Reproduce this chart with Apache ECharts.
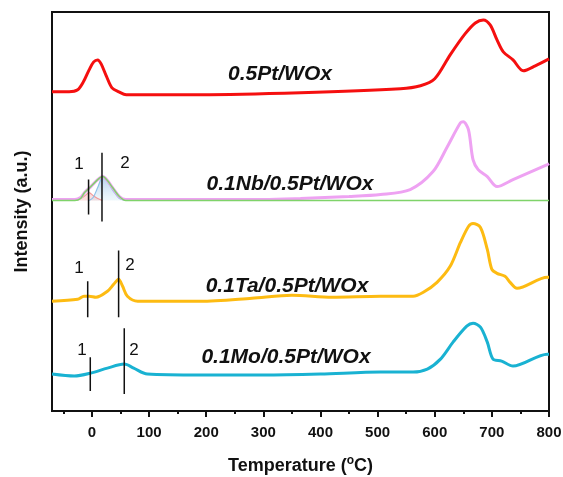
<!DOCTYPE html>
<html>
<head>
<meta charset="utf-8">
<script src="https://cdn.jsdelivr.net/npm/echarts@6/dist/echarts.min.js"></script>
<style>html,body{margin:0;padding:0;background:#fff}#c{width:563px;height:477px}</style>
</head>
<body>
<div id="c"></div>
<script>
// Temperature (°C), intensity (a.u., offset-stacked)
var majorTicks = [0, 100, 200, 300, 400, 500, 600, 700, 800];
var minorTicks = [-50, 50, 150, 250, 350, 450, 550, 650, 750];

var redPt = [[-70,320],[-40,320],[-25,322],[-15,330],[-5,342],[3,350],[10,352],[16,348],[25,336],[35,324],[47,320],[60,317],[80,317],[190,317],[365,319],[540,323],[575,326],[600,333],[627,357],[653,378],[671,389],[685,392],[697,387],[709,372],[720,360],[737,352],[755,341],[776,346],[800,353]];

var pinkNb = [[-70,212],[-30,212],[-20,214],[-13,219],[-2,225],[10,232],[19,235],[27,231],[36,224],[48,215],[59,212],[100,212],[200,212],[300,212],[365,213],[450,215],[505,217],[557,222],[597,240],[622,265],[645,289],[650,290],[659,282],[667,252],[676,242],[692,235],[709,225],[737,232],[797,247],[800,248]];
var greenFit = [[-70,211],[-30,211],[-20,213],[-13,219],[-2,225],[10,232],[19,235],[27,231],[36,224],[48,215],[59,211],[800,211]];
var fitPeak1 = [[-30,211],[-20,213],[-12,216],[-5,219],[2,216],[10,213],[18,211]];
var fitPeak2 = [[-5,211],[2,214],[10,224],[19,235],[28,229],[38,220],[48,213],[58,211]];

var yellowTa = [[-70,110],[-25,112],[-14,115],[-5,115],[7,114],[27,120],[38,127],[46.6,132],[53.6,125],[62,115],[80,110],[190,110],[280,113],[350,116],[420,114],[505,115],[562,115],[580,119],[604,129],[627,145],[645,169],[659,185],[667,188],[680,184],[692,162],[700,142],[709,138],[723,135],[732,129],[744,123],[797,134],[800,134]];

var blueMo = [[-70,37],[-31,35],[-2,38],[27,43],[56.5,47],[73,43],[97,37],[190,36],[300,36],[400,37],[505,39],[562,39],[587,42],[610,52],[632,69],[656,85],[667,88],[680,84],[692,69],[702,52],[717,50],[737,45],[797,57],[800,57]];

// peak marker lines: [temperature, yTop, yBottom]
var markersNb = [[-6,232,197],[17.5,259,190]];
var markersTa = [[-7.5,130,94],[46.6,161,94]];
var markersMo = [[-3,54,20],[56.5,83,17]];

var sampleNames = ['0.5Pt/WOx','0.1Nb/0.5Pt/WOx','0.1Ta/0.5Pt/WOx','0.1Mo/0.5Pt/WOx'];

var chart = echarts.init(document.getElementById('c'));

function curve(name, data, color, width, z) {
  return {name:name, type:'line', data:data, smooth:0.3, symbol:'none', z:z||3,
    lineStyle:{color:color, width:width}};
}
function markerSeries(list) {
  return list.map(function(m){
    return {type:'line', data:[[m[0],m[1]],[m[0],m[2]]], symbol:'none', z:6,
      lineStyle:{color:'#111', width:1.5}};
  });
}

var series = [
  {type:'line', data:fitPeak1, smooth:0.3, symbol:'none', z:2,
   lineStyle:{color:'#f39a9a', width:1.2},
   areaStyle:{origin:211, color:'rgba(244,170,170,0.55)'}},
  {type:'line', data:fitPeak2, smooth:0.3, symbol:'none', z:2,
   lineStyle:{color:'#8fc0e8', width:1.2},
   areaStyle:{origin:211, color:new echarts.graphic.LinearGradient(0,0,0,1,[
     {offset:0,color:'rgba(90,150,215,0.65)'},{offset:1,color:'rgba(190,225,240,0.35)'}])}},
  curve(sampleNames[1], pinkNb, '#eea2f2', 3, 3),
  {type:'line', data:greenFit, smooth:0.3, symbol:'none', z:4,
   lineStyle:{color:'#7fd36a', width:1.5}},
  curve(sampleNames[0], redPt, '#f50f0f', 3, 3),
  curve(sampleNames[2], yellowTa, '#fdbb12', 3, 3),
  curve(sampleNames[3], blueMo, '#19b2d2', 3, 3)
].concat(markerSeries(markersNb), markerSeries(markersTa), markerSeries(markersMo));

var numFont = 'Liberation Sans';
var graphics = [];
function txt(t, x, y, font) {
  graphics.push({type:'text', x:x, y:y, z:10, style:{text:t, fill:'#111', font:font, textAlign:'center', textVerticalAlign:'middle'}});
}
var lblFont = 'italic bold 21px "Liberation Sans"';
txt(sampleNames[0], 280, 74, lblFont);
txt(sampleNames[1], 290, 184, lblFont);
txt(sampleNames[2], 287, 286, lblFont);
txt(sampleNames[3], 286, 357, lblFont);
var numF = '17px "Liberation Sans"';
txt('1', 79, 164, numF); txt('2', 125, 163, numF);
txt('1', 79, 268, numF); txt('2', 130, 265, numF);
txt('1', 82, 350, numF); txt('2', 134, 350, numF);

chart.setOption({
  animation:false,
  grid:{left:52, right:14, top:12, bottom:66, show:true, borderColor:'#111', borderWidth:2, outerBoundsMode:'none', containLabel:false},
  xAxis:[{
    type:'value', min:-70, max:800,
    axisLine:{show:true, onZero:false, lineStyle:{color:'#111', width:2}},
    axisTick:{show:true, customValues:majorTicks, length:6, inside:false, lineStyle:{color:'#111', width:2}},
    axisLabel:{customValues:majorTicks, color:'#111', fontSize:15, fontWeight:'bold', fontFamily:numFont, margin:14},
    splitLine:{show:false},
    name:'{a|Temperature (}{s|o}{a|C)}', nameLocation:'middle', nameGap:44,
    nameTextStyle:{rich:{
      a:{fontSize:18, fontWeight:'bold', fontFamily:numFont, color:'#111', lineHeight:22},
      s:{fontSize:12, fontWeight:'bold', fontFamily:numFont, color:'#111', verticalAlign:'top', lineHeight:12}
    }}
  },{
    type:'value', min:-70, max:800, position:'bottom',
    axisLine:{show:false, onZero:false},
    axisTick:{show:true, customValues:minorTicks, length:3, lineStyle:{color:'#111', width:2}},
    axisLabel:{show:false}, splitLine:{show:false}
  }],
  yAxis:{
    type:'value', min:0, max:400,
    axisLine:{show:true, onZero:false, lineStyle:{color:'#111', width:2}},
    axisTick:{show:false}, axisLabel:{show:false}, splitLine:{show:false},
    name:'Intensity (a.u.)', nameLocation:'middle', nameGap:21, nameRotate:90,
    nameTextStyle:{fontSize:18, fontWeight:'bold', fontFamily:numFont, color:'#111'}
  },
  series:series,
  graphic:graphics
});
</script>
</body>
</html>
